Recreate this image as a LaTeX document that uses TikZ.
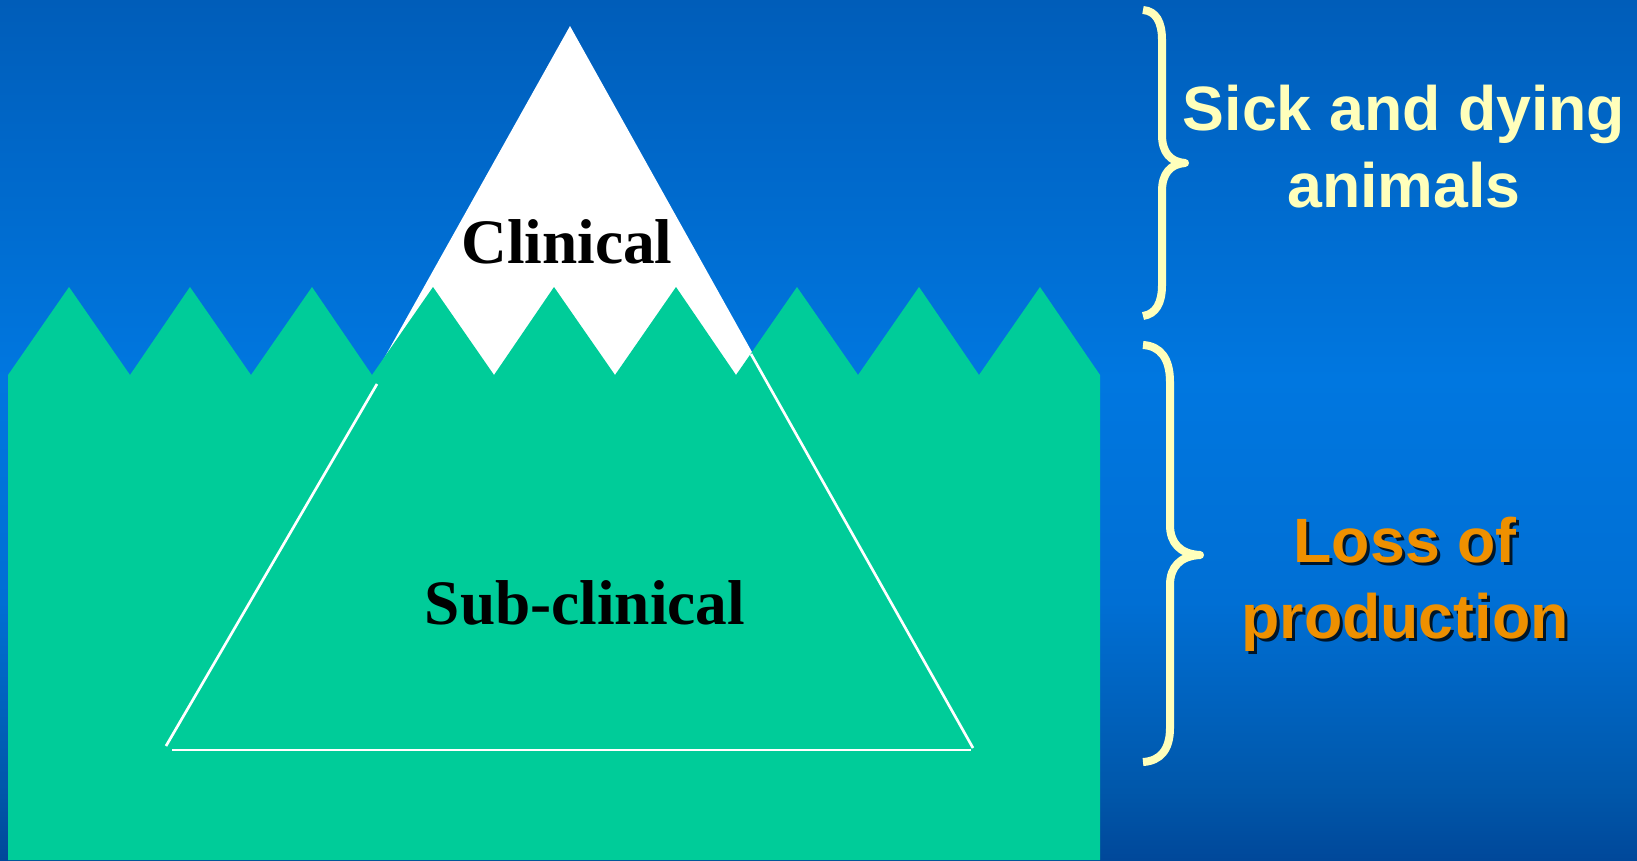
\documentclass[tikz,border=0pt]{standalone}
\usepackage{fontspec}
\setmainfont{Liberation Serif}
\setsansfont{Liberation Sans}
\definecolor{bgtop}{HTML}{005DB9}
\definecolor{bgmid}{HTML}{0077E0}
\definecolor{bgmid2}{HTML}{006FD4}
\definecolor{bglow}{HTML}{0057AA}
\definecolor{bgbot}{HTML}{00489A}
\definecolor{sea}{HTML}{00CC99}
\definecolor{pale}{HTML}{FFFFBB}
\definecolor{orng}{HTML}{EE9000}
\pgfdeclareverticalshading{bgshade}{100bp}{color(0bp)=(bgbot); color(25bp)=(bgbot); color(29bp)=(bglow); color(40bp)=(bgmid2); color(53bp)=(bgmid); color(75bp)=(bgtop); color(100bp)=(bgtop)}
\tikzset{
  outl/.style={draw=white, line width=2pt},
  brace/.style={draw=pale, line width=6pt, line join=round},
  serifl/.style={anchor=base, inner sep=0pt, text=black, font=\bfseries\fontsize{47.5}{50}\selectfont},
  sansl/.style={anchor=base, inner sep=0pt, font=\sffamily\bfseries\fontsize{47}{50}\selectfont},
}
\begin{document}
\begin{tikzpicture}[x=0.75pt,y=-0.75pt]
\useasboundingbox (0,0) rectangle (1637,860);
\shade[shading=bgshade] (0,0) rectangle (1637,860);
% iceberg
\fill[white] (570,26) -- (973,748) -- (166,748) -- cycle;
% sea
\fill[sea] (8,860) -- (8,375)
  -- (69,287) -- (130,375) -- (190,287) -- (251,375) -- (312,287) -- (372,375)
  -- (433,287) -- (494,375) -- (554,287) -- (615,375) -- (676,287) -- (736,375)
  -- (797,287) -- (858,375) -- (919,287) -- (979,375) -- (1040,287) -- (1100,375)
  -- (1100,860) -- cycle;
% submerged outline
\draw[outl] (377,384) -- (166,746);
\draw[outl] (172,750) -- (971,750);
\draw[outl] (751,354) -- (973,748);
% labels
\node[serifl] (clin) at (567,263) {Clinical};
\node[serifl] (sub) at (585,624) {Sub-clinical};
% braces
\draw[brace] (1143,10) .. controls (1156,11) and (1162,22) .. (1162,40) -- (1162,135)
  .. controls (1162,152) and (1170,162) .. (1185,163)
  .. controls (1170,164) and (1162,174) .. (1162,191) -- (1162,285)
  .. controls (1162,303) and (1156,314) .. (1143,316);
\draw[brace] (1143,345) .. controls (1160,346) and (1170,358) .. (1170,382) -- (1170,525)
  .. controls (1170,543) and (1180,554) .. (1200,555)
  .. controls (1180,556) and (1170,567) .. (1170,585) -- (1170,728)
  .. controls (1170,750) and (1160,761) .. (1143,762);
% right texts
\node[sansl, text=pale] (sick1) at (1404,130) {Sick and dying};
\node[sansl, text=pale] (sick2) at (1404,207) {animals};
\node[sansl, text=black, opacity=0.8] (loss1s) at (1408,565) {Loss of};
\node[sansl, text=black, opacity=0.8] (loss2s) at (1408,641) {production};
\node[sansl, text=orng] (loss1) at (1405,562) {Loss of};
\node[sansl, text=orng] (loss2) at (1405,638) {production};
\end{tikzpicture}
\end{document}
